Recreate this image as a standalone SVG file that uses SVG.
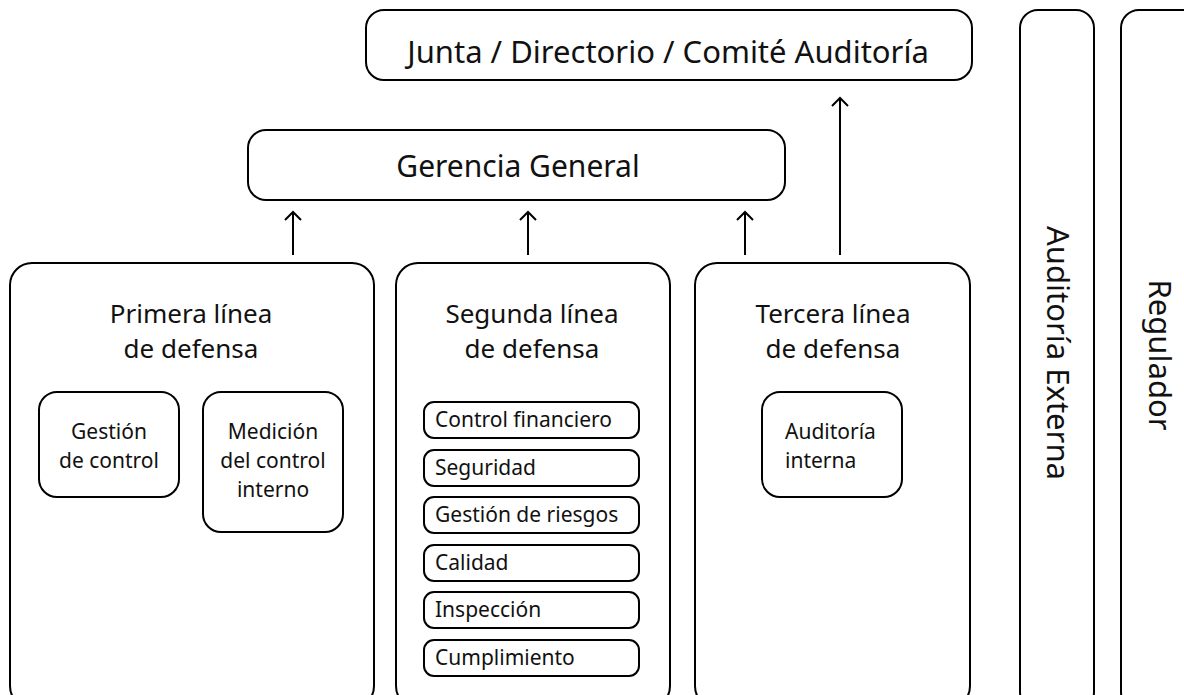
<svg xmlns="http://www.w3.org/2000/svg" width="1184" height="695" viewBox="0 0 1184 695">
<defs>
<style>
.box{fill:#fff;stroke:#000;stroke-width:2}
.t{font-family:"Noto Sans","Open Sans",sans-serif;fill:#111}
.big{font-size:31px}
.ger{font-size:30px}
.mid{font-size:26px}
.vt{font-size:31px}
.sm{font-size:21px}
.con{stroke:#000;stroke-width:2;fill:none}
</style>
<marker id="ah" viewBox="0 0 20 20" refX="10" refY="10" markerWidth="20" markerHeight="20" markerUnits="userSpaceOnUse" orient="auto">
<path d="M2 2 L10 10 L2 18" fill="none" stroke="#000" stroke-width="2"/>
</marker>
</defs>
<rect width="1184" height="695" fill="#fff"/>
<g id="junta">
<rect class="box" x="366" y="10" width="606" height="70" rx="18"/>
<text class="t big" x="668" y="63" text-anchor="middle">Junta / Directorio / Comité Auditoría</text>
</g>
<g id="gerencia">
<rect class="box" x="248" y="130" width="537" height="70" rx="18"/>
<text class="t ger" x="518" y="177" text-anchor="middle">Gerencia General</text>
</g>
<g id="primera">
<rect class="box" x="10" y="263" width="364" height="445" rx="22"/>
<text class="t mid" x="191" y="323" text-anchor="middle">Primera línea</text>
<text class="t mid" x="191" y="358" text-anchor="middle">de defensa</text>
</g>
<g id="gestion-control">
<rect class="box" x="39" y="392" width="140" height="105" rx="18"/>
<text class="t sm" x="109" y="439" text-anchor="middle">Gestión</text>
<text class="t sm" x="109" y="468" text-anchor="middle">de control</text>
</g>
<g id="medicion">
<rect class="box" x="203" y="392" width="140" height="140" rx="18"/>
<text class="t sm" x="273" y="439" text-anchor="middle">Medición</text>
<text class="t sm" x="273" y="468" text-anchor="middle">del control</text>
<text class="t sm" x="273" y="497" text-anchor="middle">interno</text>
</g>
<g id="segunda">
<rect class="box" x="396" y="263" width="274" height="445" rx="22"/>
<text class="t mid" x="532" y="323" text-anchor="middle">Segunda línea</text>
<text class="t mid" x="532" y="358" text-anchor="middle">de defensa</text>
</g>
<g id="control-financiero">
<rect class="box" x="424" y="402" width="215" height="36" rx="10"/>
<text class="t sm" x="435" y="427">Control financiero</text>
</g>
<g id="seguridad">
<rect class="box" x="424" y="450" width="215" height="36" rx="10"/>
<text class="t sm" x="435" y="475">Seguridad</text>
</g>
<g id="gestion-riesgos">
<rect class="box" x="424" y="497" width="215" height="36" rx="10"/>
<text class="t sm" x="435" y="522">Gestión de riesgos</text>
</g>
<g id="calidad">
<rect class="box" x="424" y="545" width="215" height="36" rx="10"/>
<text class="t sm" x="435" y="570">Calidad</text>
</g>
<g id="inspeccion">
<rect class="box" x="424" y="592" width="215" height="36" rx="10"/>
<text class="t sm" x="435" y="617">Inspección</text>
</g>
<g id="cumplimiento">
<rect class="box" x="424" y="640" width="215" height="36" rx="10"/>
<text class="t sm" x="435" y="665">Cumplimiento</text>
</g>
<g id="tercera">
<rect class="box" x="695" y="263" width="275" height="445" rx="22"/>
<text class="t mid" x="833" y="323" text-anchor="middle">Tercera línea</text>
<text class="t mid" x="833" y="358" text-anchor="middle">de defensa</text>
</g>
<g id="auditoria-interna">
<rect class="box" x="762" y="392" width="140" height="105" rx="18"/>
<text class="t sm" x="785" y="439">Auditoría</text>
<text class="t sm" x="785" y="468">interna</text>
</g>
<g id="auditoria-externa">
<rect class="box" x="1020" y="10" width="74" height="700" rx="18"/>
<text class="t vt" transform="translate(1047,353) rotate(90)" text-anchor="middle">Auditoría Externa</text>
</g>
<g id="regulador">
<rect class="box" x="1121" y="10" width="80" height="700" rx="18"/>
<text class="t vt" transform="translate(1149,355) rotate(90)" text-anchor="middle">Regulador</text>
</g>
<g id="connectors">
<line class="con" x1="293" y1="255" x2="293" y2="212" marker-end="url(#ah)"/>
<line class="con" x1="528" y1="255" x2="528" y2="212" marker-end="url(#ah)"/>
<line class="con" x1="745" y1="255" x2="745" y2="212" marker-end="url(#ah)"/>
<line class="con" x1="840" y1="255" x2="840" y2="98" marker-end="url(#ah)"/>
</g>
</svg>
